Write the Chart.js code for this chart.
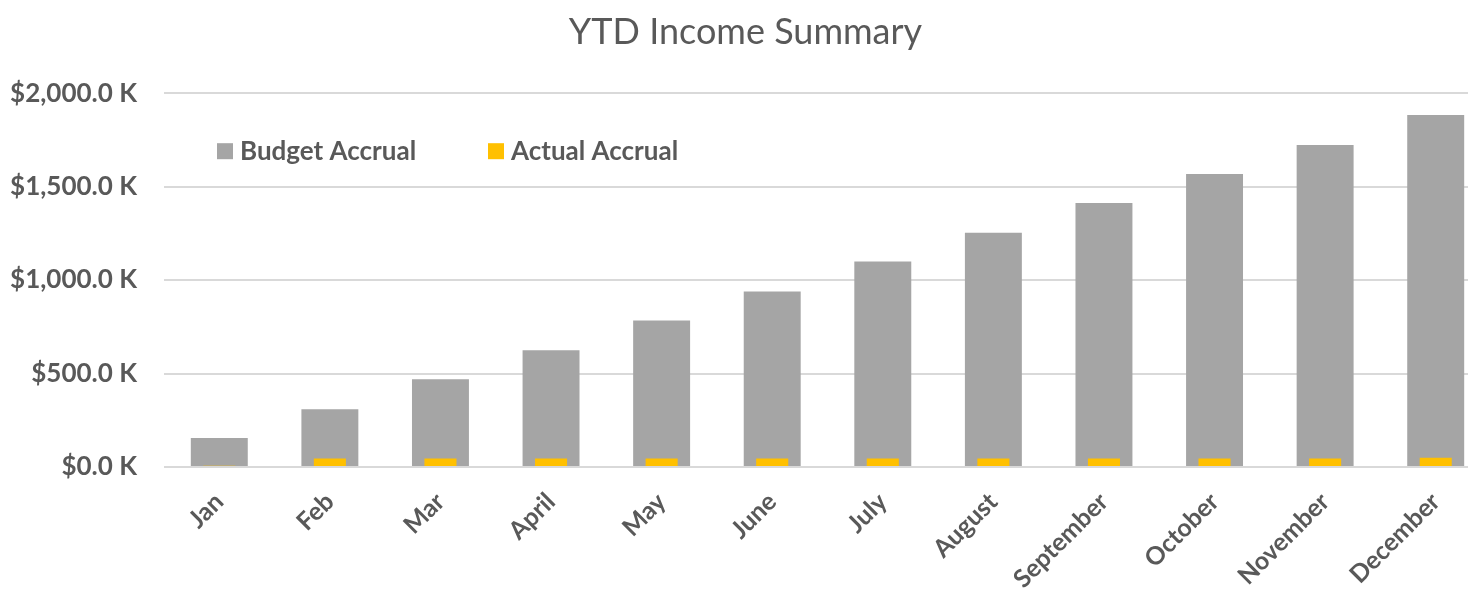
<!DOCTYPE html>
<html>
<head>
<meta charset="utf-8">
<title>YTD Income Summary</title>
<script src="https://cdn.jsdelivr.net/npm/chart.js@4.4.1/dist/chart.umd.min.js"></script>
<style>
  html, body { margin: 0; padding: 0; background: #fff; overflow: hidden; }
  #wrap { position: absolute; left: 0; top: 0; width: 1514px; height: 605px; }
</style>
</head>
<body>
<div id="wrap"><canvas id="chart" width="1514" height="605"></canvas></div>
<script>
// values in $K
const months = ['Jan', 'Feb', 'Mar', 'April', 'May', 'June', 'July', 'August', 'September', 'October', 'November', 'December']
const budgetAccrual = [155, 309, 469, 624, 784, 939, 1099, 1253, 1413, 1568, 1723, 1883]
const actualAccrual = [7, 46, 46, 46, 46, 46, 46, 46, 46, 46, 46, 50]
const yTicks = [0, 500, 1000, 1500, 2000]

const TEXT = '#595959'
const GRID = '#D9D9D9'
const FONT = 'Lato, "Open Sans", sans-serif'

const fmtK = v => '$' + v.toLocaleString('en-US', { minimumFractionDigits: 1, maximumFractionDigits: 1 }) + ' K'

// legend sits inside the plot area, top-left, like the Excel original
const insideLegend = {
  id: 'insideLegend',
  afterDraw(chart) {
    const { ctx, chartArea } = chart
    const items = [0, 1].map(i => chart.data.datasets[i])
    let x = chartArea.left + 53
    const y = chartArea.top + 58
    ctx.save()
    ctx.font = 'bold 26px ' + FONT
    ctx.textBaseline = 'middle'
    items.forEach(ds => {
      ctx.fillStyle = ds.backgroundColor
      ctx.fillRect(x, y - 8, 16, 16)
      ctx.fillStyle = TEXT
      ctx.fillText(ds.label, x + 23, y)
      x += 271
    })
    ctx.restore()
  },
}

new Chart(document.getElementById('chart'), {
  type: 'bar',
  data: {
    labels: months,
    datasets: [
      {
        label: 'Budget Accrual',
        data: budgetAccrual,
        backgroundColor: '#A5A5A5',
        barPercentage: 0.515,
        categoryPercentage: 1,
        grouped: false,
        order: 1,
      },
      {
        label: 'Actual Accrual',
        data: actualAccrual,
        backgroundColor: '#FFC000',
        barPercentage: 0.29,
        categoryPercentage: 1,
        grouped: false,
        order: 0,
      },
    ],
  },
  options: {
    responsive: false,
    animation: false,
    layout: { padding: { left: 0, right: 23, top: 0, bottom: 0 } },
    plugins: {
      legend: { display: false },
      tooltip: { enabled: false },
      title: {
        display: true,
        text: 'YTD Income Summary',
        color: TEXT,
        font: { family: FONT, size: 36, weight: 'normal' },
        padding: { top: 11, bottom: 39 },
      },
    },
    scales: {
      x: {
        grid: { display: false },
        border: { display: false },
        ticks: {
          color: TEXT,
          font: { family: FONT, size: 25, weight: 'bold' },
          minRotation: 45,
          maxRotation: 45,
          padding: 12,
          autoSkip: false,
        },
        afterFit(scale) { scale.height = 138 },
      },
      y: {
        min: 0,
        max: 2000,
        afterBuildTicks(scale) { scale.ticks = yTicks.map(v => ({ value: v })) },
        grid: { color: GRID, lineWidth: 2, drawTicks: false },
        border: { display: false },
        ticks: {
          color: TEXT,
          font: { family: FONT, size: 26, weight: 'bold' },
          padding: 27,
          callback: v => fmtK(v),
        },
        afterFit(scale) { scale.width = 164 },
      },
    },
  },
  plugins: [insideLegend],
})
</script>
</body>
</html>
